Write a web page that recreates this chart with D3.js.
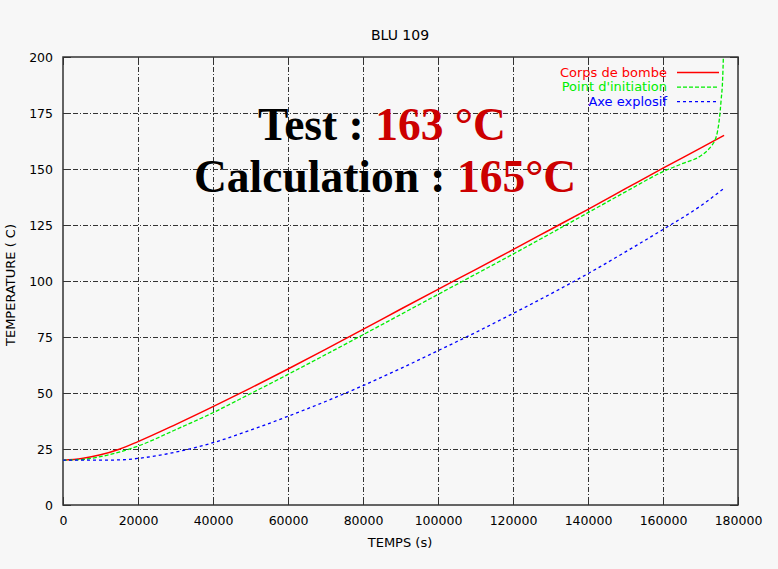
<!DOCTYPE html>
<html>
<head>
<meta charset="utf-8">
<script src="https://cdn.jsdelivr.net/npm/d3@7"></script>
<style>
  body { margin: 0; background: #f7f7f7; }
  svg { display: block; }
  text { font-family: "DejaVu Sans", sans-serif; }
</style>
</head>
<body>
<svg width="778" height="569"></svg>
<script>
// data
var xTicks = [0, 20000, 40000, 60000, 80000, 100000, 120000, 140000, 160000, 180000];
var yTicks = [0, 25, 50, 75, 100, 125, 150, 175, 200];

var corpsTime = [0, 5000, 10000, 15000, 20000, 30000, 40000, 50000, 60000, 70000, 80000, 90000,
                 100000, 110000, 120000, 130000, 140000, 150000, 160000, 170000, 176300];
var corpsTemp = [20, 20.8, 22.4, 24.9, 28.3, 35.9, 43.9, 52.2, 60.7, 69.5, 78.4, 87.4,
                 96.3, 105.1, 114, 123, 132, 141.2, 150.4, 159.3, 165];

var pointTime = [0, 5000, 10000, 15000, 20000, 30000, 40000, 50000, 60000, 70000, 80000, 90000,
                 100000, 110000, 120000, 130000, 140000, 150000, 160000, 165000, 170000, 172000,
                 173000, 173900, 174500, 175000, 175500, 175900, 176100];
var pointTemp = [20, 20.3, 21.6, 23.6, 26.3, 33.6, 41.2, 49.7, 58.3, 67.1, 76, 85,
                 94, 103, 112, 121.2, 130.5, 139.8, 148.8, 152.3, 155.8, 158.5,
                 160.5, 163, 166.5, 171.9, 180.8, 190, 200];

var axeTime = [0, 10000, 16000, 20000, 25000, 30000, 35000, 40000, 50000, 60000, 70000, 80000,
               90000, 100000, 110000, 120000, 130000, 140000, 150000, 160000, 170000, 176300];
var axeTemp = [20, 20, 20.2, 20.8, 22, 23.6, 25.5, 27.8, 33.4, 39.6, 46.2, 53.3,
               60.9, 68.9, 77, 85.5, 94.2, 103.3, 113, 123, 133.5, 141.4];

var seriesNames = ["Corps de bombe", "Point d'initiation", "Axe explosif"];
var seriesColors = ["#ff0000", "#00ee00", "#0000ff"];
var seriesDash = [null, "4,2", "3,3"];
var seriesWidth = [1.5, 1.3, 1.3];

var svg = d3.select("svg");
var plotLeft = 63, plotRight = 738, plotTop = 57, plotBottom = 505;

var x = d3.scaleLinear().domain([0, 180000]).range([plotLeft, plotRight]);
var y = d3.scaleLinear().domain([0, 200]).range([plotBottom, plotTop]);

// grid
var grid = svg.append("g").attr("class", "grid")
    .attr("stroke", "#333").attr("stroke-width", 1).attr("stroke-dasharray", "5,2,1,2");
grid.selectAll("line.gx").data(xTicks.slice(1, -1)).enter().append("line")
    .attr("x1", function(d) { return Math.round(x(d)) + 0.5; }).attr("x2", function(d) { return Math.round(x(d)) + 0.5; })
    .attr("y1", plotTop).attr("y2", plotBottom);
grid.selectAll("line.gy").data(yTicks.slice(1, -1)).enter().append("line")
    .attr("y1", function(d) { return Math.round(y(d)) + 0.5; }).attr("y2", function(d) { return Math.round(y(d)) + 0.5; })
    .attr("x1", plotLeft).attr("x2", plotRight);

// axes with inward ticks
svg.append("g").attr("transform", "translate(0," + plotBottom + ")")
    .call(d3.axisBottom(x).tickValues(xTicks).tickFormat(d3.format("d")).tickSizeInner(-8).tickSizeOuter(0).tickPadding(11));
svg.append("g").attr("transform", "translate(0," + plotTop + ")")
    .call(d3.axisTop(x).tickValues(xTicks).tickFormat("").tickSizeInner(-8).tickSizeOuter(0));
svg.append("g").attr("transform", "translate(" + plotLeft + ",0)")
    .call(d3.axisLeft(y).tickValues(yTicks).tickSizeInner(-8).tickSizeOuter(0).tickPadding(10));
svg.append("g").attr("transform", "translate(" + plotRight + ",0)")
    .call(d3.axisRight(y).tickValues(yTicks).tickFormat("").tickSizeInner(-8).tickSizeOuter(0));

svg.selectAll(".domain").remove();
svg.selectAll(".tick line").attr("stroke", "#333");
svg.selectAll(".tick text").attr("font-size", 12.5).attr("fill", "#000")
    .attr("font-family", "DejaVu Sans, sans-serif");

svg.append("rect")
    .attr("x", plotLeft).attr("y", plotTop).attr("width", plotRight - plotLeft).attr("height", plotBottom - plotTop)
    .attr("fill", "none").attr("stroke", "#333").attr("stroke-width", 1.5);

// curves
var line = d3.line()
    .x(function(d) { return x(d[0]); })
    .y(function(d) { return y(d[1]); })
    .curve(d3.curveMonotoneX);

var series = [d3.zip(corpsTime, corpsTemp), d3.zip(pointTime, pointTemp), d3.zip(axeTime, axeTemp)];

svg.append("defs").append("clipPath").attr("id", "clip")
    .append("rect").attr("x", plotLeft).attr("y", plotTop).attr("width", plotRight - plotLeft).attr("height", plotBottom - plotTop);

svg.append("g").attr("clip-path", "url(#clip)")
    .selectAll("path").data(series).enter().append("path")
    .attr("d", line)
    .attr("fill", "none")
    .attr("stroke", function(d, i) { return seriesColors[i]; })
    .attr("stroke-width", function(d, i) { return seriesWidth[i]; })
    .attr("stroke-dasharray", function(d, i) { return seriesDash[i]; });

// legend
var legend = svg.append("g").selectAll("g").data(seriesNames).enter().append("g")
    .attr("transform", function(d, i) { return "translate(0," + (72 + i * 14.6) + ")"; });
legend.append("text")
    .attr("x", 667).attr("dy", "0.35em").attr("text-anchor", "end")
    .attr("font-size", 13)
    .attr("fill", function(d, i) { return seriesColors[i]; })
    .text(function(d) { return d; });
legend.append("line")
    .attr("x1", 677).attr("x2", 719).attr("y1", 0.5).attr("y2", 0.5)
    .attr("stroke", function(d, i) { return seriesColors[i]; })
    .attr("stroke-width", function(d, i) { return seriesWidth[i]; })
    .attr("stroke-dasharray", function(d, i) { return seriesDash[i]; });

// title and axis labels
svg.append("text").attr("x", 400).attr("y", 40).attr("text-anchor", "middle")
    .attr("font-size", 14).text("BLU 109");
svg.append("text").attr("x", 400).attr("y", 547).attr("text-anchor", "middle")
    .attr("font-size", 13).text("TEMPS (s)");
svg.append("text").attr("transform", "translate(15,285) rotate(-90)").attr("text-anchor", "middle")
    .attr("font-size", 13).text("TEMPERATURE ( C)");

// annotation
var note = svg.append("g").attr("font-weight", "bold").attr("font-size", 45.5);
var t1 = note.append("text").attr("x", 258).attr("y", 140).style("font-family", "Liberation Serif, serif");
t1.append("tspan").attr("fill", "#000").text("Test : ");
t1.append("tspan").attr("fill", "#cc0000").text("163 °C");
var t2 = note.append("text").attr("x", 194).attr("y", 192).style("font-family", "Liberation Serif, serif");
t2.append("tspan").attr("fill", "#000").text("Calculation : ");
t2.append("tspan").attr("fill", "#cc0000").text("165°C");
</script>
</body>
</html>
